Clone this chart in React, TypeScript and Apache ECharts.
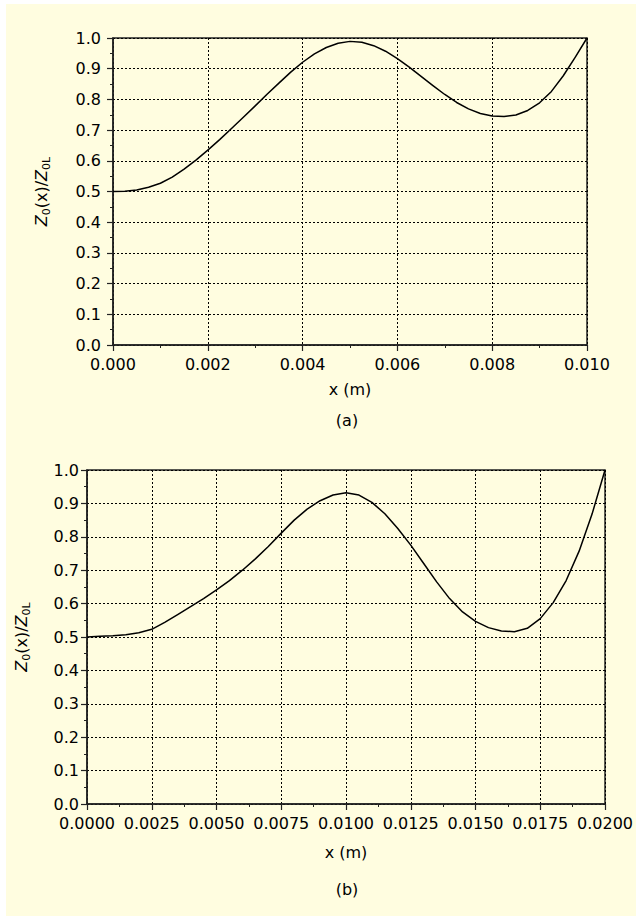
import React, { useEffect, useRef } from "react";
import * as echarts from "echarts";

// Panel (a)
const xA: number[] = [
  0, 0.00025, 0.0005, 0.00075, 0.001, 0.00125, 0.0015, 0.00175, 0.002, 0.00225,
  0.0025, 0.00275, 0.003, 0.00325, 0.0035, 0.00375, 0.004, 0.00425, 0.0045, 0.00475,
  0.005, 0.00525, 0.0055, 0.00575, 0.006, 0.00625, 0.0065, 0.00675, 0.007, 0.00725,
  0.0075, 0.00775, 0.008, 0.00825, 0.0085, 0.00875, 0.009, 0.00925, 0.0095, 0.00975, 0.01,
];
const yA: number[] = [
  0.5, 0.501, 0.505, 0.514, 0.527, 0.547, 0.573, 0.602, 0.635, 0.669,
  0.705, 0.742, 0.779, 0.817, 0.853, 0.889, 0.921, 0.948, 0.969, 0.983,
  0.989, 0.986, 0.975, 0.957, 0.933, 0.905, 0.875, 0.845, 0.816, 0.79,
  0.769, 0.754, 0.746, 0.744, 0.749, 0.764, 0.789, 0.826, 0.877, 0.937, 1.0,
];

// Panel (b)
const xB: number[] = [
  0, 0.0005, 0.001, 0.0015, 0.002, 0.0025, 0.003, 0.0035, 0.004, 0.0045,
  0.005, 0.0055, 0.006, 0.0065, 0.007, 0.0075, 0.008, 0.0085, 0.009, 0.0095,
  0.01, 0.0105, 0.011, 0.0115, 0.012, 0.0125, 0.013, 0.0135, 0.014, 0.0145,
  0.015, 0.0155, 0.016, 0.0165, 0.017, 0.0175, 0.018, 0.0185, 0.019, 0.0195, 0.02,
];
const yB: number[] = [
  0.5, 0.502, 0.504, 0.507, 0.513, 0.523, 0.544, 0.567, 0.591, 0.615,
  0.641, 0.669, 0.7, 0.734, 0.771, 0.811, 0.85, 0.883, 0.908, 0.925,
  0.932, 0.925, 0.903, 0.869, 0.825, 0.775, 0.72, 0.665, 0.615, 0.575,
  0.547, 0.528, 0.518, 0.516, 0.526, 0.555, 0.603, 0.669, 0.757, 0.868, 1.0,
];

const xNameText = "x (m)";
const yNameRich = "{z|Z}{s|0}{n|(x)/}{z|Z}{s|0L}";
const panelLabels = ["(a)", "(b)"];

const FONT = "DejaVu Sans";
const BG = "#FFFDE0";
const AXIS = "#222222";

export default function App() {
  const ref = useRef<HTMLDivElement>(null);

  useEffect(() => {
    if (!ref.current) return;
    const chart = echarts.init(ref.current, null, { renderer: "svg" });

    const richName = {
      z: { fontSize: 16, fontFamily: FONT, fontStyle: "italic", color: "#000", lineHeight: 19 },
      n: { fontSize: 16, fontFamily: FONT, color: "#000", lineHeight: 19 },
      s: { fontSize: 11, fontFamily: FONT, color: "#000", lineHeight: 10, padding: [9, 0, 0, 0] },
    };

    const yAxisBase = (gridIndex: number, labelMargin: number, nameGap: number) => ({
      type: "value",
      gridIndex,
      min: 0,
      max: 1,
      interval: 0.1,
      name: yNameRich,
      nameLocation: "middle",
      nameRotate: 90,
      nameGap,
      nameTextStyle: { rich: richName },
      axisLine: { show: true, lineStyle: { color: AXIS, width: 1.5 } },
      axisTick: { show: true, length: 6, lineStyle: { color: AXIS, width: 1.2 } },
      minorTick: { show: true, splitNumber: 2, length: 3, lineStyle: { color: AXIS, width: 1 } },
      axisLabel: {
        fontFamily: FONT,
        fontSize: 16,
        color: "#000",
        margin: labelMargin,
        formatter: (v: number) => v.toFixed(1),
      },
      splitLine: { show: true, lineStyle: { type: [2, 2], color: "#000", width: 1 } },
    });

    const xAxisBase = (
      gridIndex: number,
      max: number,
      interval: number,
      digits: number,
      nameGap: number
    ) => ({
      type: "value",
      gridIndex,
      min: 0,
      max,
      interval,
      name: xNameText,
      nameLocation: "middle",
      nameGap,
      nameTextStyle: { fontFamily: FONT, fontSize: 16, color: "#000" },
      axisLine: { show: true, onZero: false, lineStyle: { color: AXIS, width: 1.5 } },
      axisTick: { show: true, length: 6, lineStyle: { color: AXIS, width: 1.2 } },
      minorTick: { show: true, splitNumber: 2, length: 3, lineStyle: { color: AXIS, width: 1 } },
      axisLabel: {
        fontFamily: FONT,
        fontSize: 16,
        color: "#000",
        margin: 11,
        showMinLabel: true,
        showMaxLabel: true,
        formatter: (v: number) => v.toFixed(digits),
      },
      splitLine: { show: true, lineStyle: { type: [2, 2], color: "#000", width: 1 } },
    });

    const option = {
      animation: false,
      backgroundColor: BG,
      graphic: [
        { type: "rect", shape: { x: 0, y: 0, width: 636, height: 4 }, style: { fill: "#ffffff" } },
        { type: "rect", shape: { x: 0, y: 0, width: 6, height: 917 }, style: { fill: "#ffffff" } },
        { type: "rect", shape: { x: 0, y: 916, width: 636, height: 1 }, style: { fill: "#ffffff" } },
        {
          type: "text",
          x: 347,
          y: 420,
          style: { text: panelLabels[0], font: `16px '${FONT}'`, fill: "#000", textAlign: "center", textVerticalAlign: "middle" },
        },
        {
          type: "text",
          x: 347,
          y: 889,
          style: { text: panelLabels[1], font: `16px '${FONT}'`, fill: "#000", textAlign: "center", textVerticalAlign: "middle" },
        },
      ],
      grid: [
        { left: 113, top: 38, width: 474, height: 307, show: true, backgroundColor: BG, borderColor: AXIS, borderWidth: 1.5 },
        { left: 87, top: 470, width: 521, height: 334, show: true, backgroundColor: BG, borderColor: AXIS, borderWidth: 1.5 },
      ],
      xAxis: [xAxisBase(0, 0.01, 0.002, 3, 36), xAxisBase(1, 0.02, 0.0025, 4, 40)],
      yAxis: [yAxisBase(0, 12, 62), yAxisBase(1, 8, 56)],
      series: [
        {
          type: "line",
          xAxisIndex: 0,
          yAxisIndex: 0,
          data: xA.map((x, i) => [x, yA[i]]),
          showSymbol: false,
          smooth: false,
          lineStyle: { color: "#000", width: 1.5, join: "round" },
        },
        {
          type: "line",
          xAxisIndex: 1,
          yAxisIndex: 1,
          data: xB.map((x, i) => [x, yB[i]]),
          showSymbol: false,
          smooth: false,
          lineStyle: { color: "#000", width: 1.5, join: "round" },
        },
      ],
    };

    chart.setOption(option as any);
    return () => chart.dispose();
  }, []);

  return (
    <div
      ref={ref}
      style={{ position: "absolute", left: 0, top: 0, width: 636, height: 917 }}
    />
  );
}
